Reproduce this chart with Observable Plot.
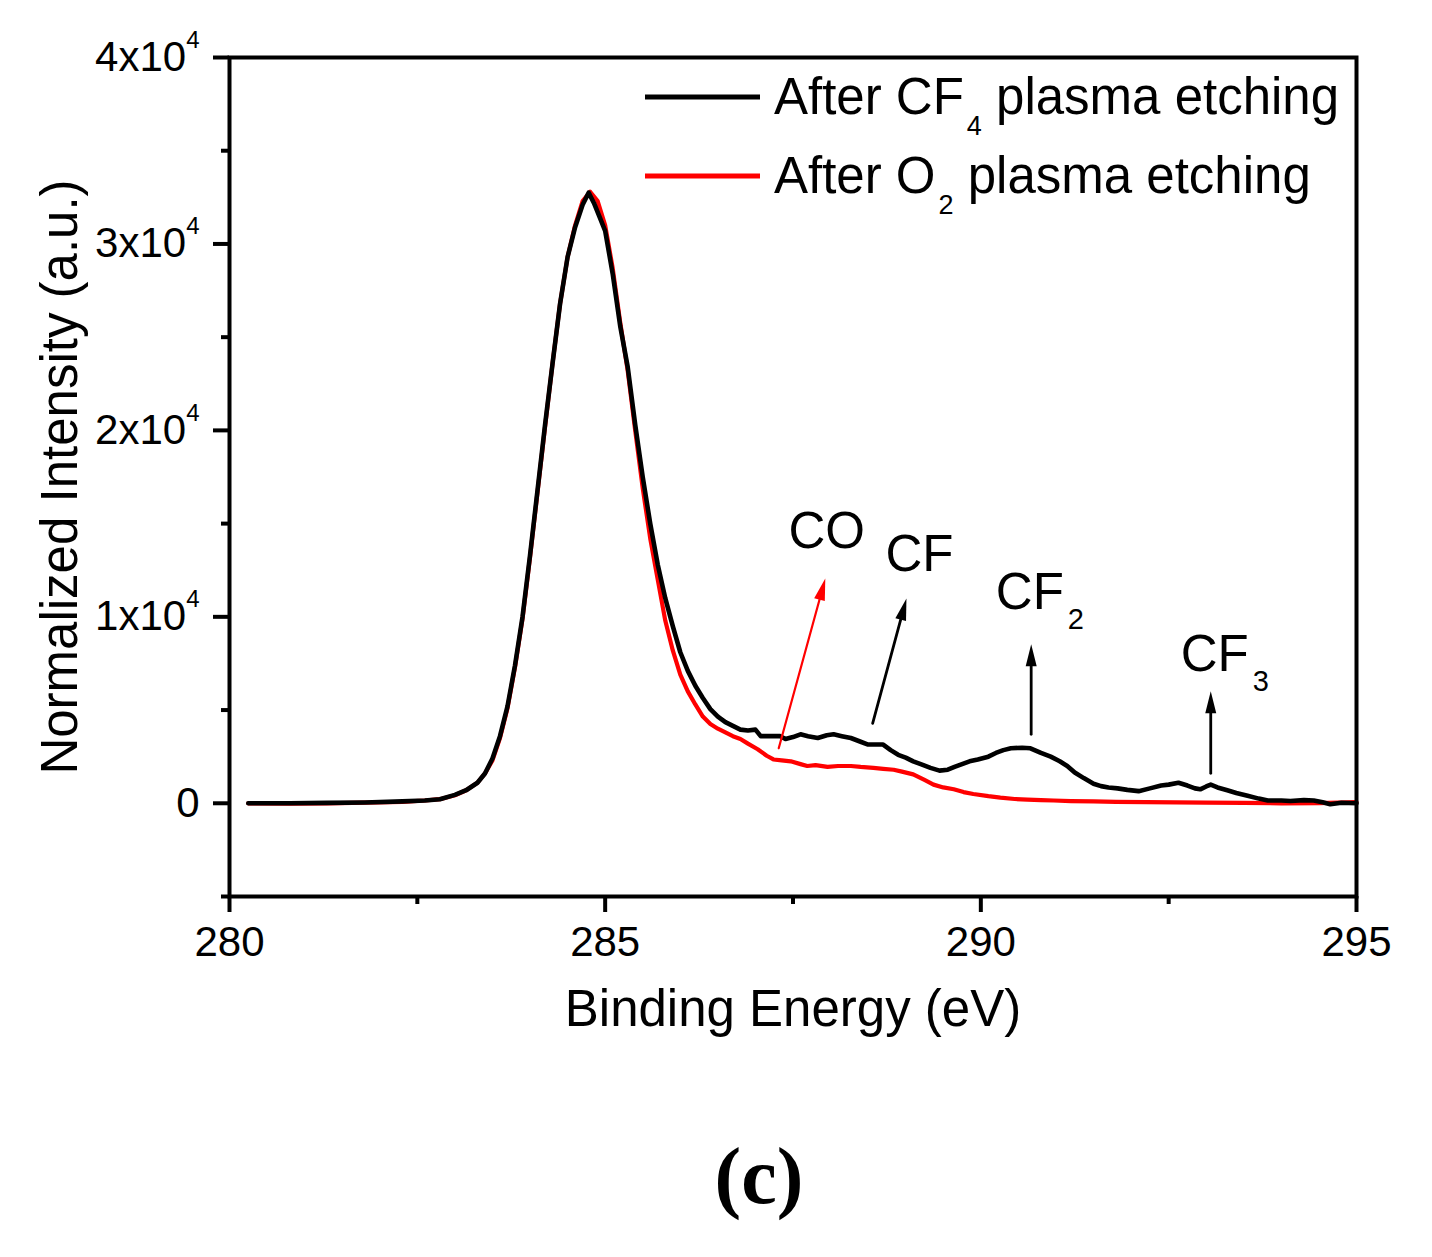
<!DOCTYPE html>
<html>
<head>
<meta charset="utf-8">
<script src="https://cdn.jsdelivr.net/npm/d3@7"></script>
<script src="https://cdn.jsdelivr.net/npm/@observablehq/plot@0.6"></script>
<style>
  body { margin: 0; background: #fff; }
  #wrap { position: relative; width: 1432px; height: 1257px; }
  #caption {
    position: absolute; top: 1136px; left: 759px; transform: translateX(-50%);
    font-family: "Liberation Serif", "Times New Roman", serif; font-weight: bold;
    font-size: 80px; line-height: 80px; color: #000; white-space: nowrap;
  }
</style>
</head>
<body>
<div id="wrap"><div id="chart"></div><div id="caption">(c)</div></div>
<script>
// ---------- data ----------
const energyCF4 = [280.25,280.8,281.3,281.8,282.3,282.6,282.8,283.0,283.15,283.3,283.4,283.5,283.6,283.7,283.8,283.9,284.0,284.1,284.2,284.3,284.4,284.5,284.6,284.7,284.78,284.85,284.92,285.0,285.1,285.2,285.3,285.4,285.5,285.6,285.7,285.8,285.9,286.0,286.1,286.2,286.3,286.4,286.5,286.6,286.7,286.8,286.9,287.0,287.07,287.2,287.33,287.4,287.5,287.6,287.7,287.83,287.95,288.04,288.15,288.27,288.4,288.5,288.7,288.8,288.9,289.0,289.1,289.2,289.33,289.45,289.56,289.65,289.75,289.85,289.96,290.1,290.2,290.3,290.4,290.55,290.66,290.8,290.93,291.05,291.15,291.25,291.37,291.5,291.6,291.7,291.82,291.95,292.1,292.25,292.4,292.5,292.63,292.75,292.85,292.92,293.0,293.06,293.15,293.28,293.4,293.55,293.7,293.82,294.0,294.12,294.3,294.43,294.55,294.65,294.8,295.0];
const intensityCF4 = [0,0,20,40,100,150,220,450,700,1100,1600,2400,3600,5200,7400,10000,13300,16800,20300,23600,26800,29300,30900,32100,32750,32200,31500,30700,28400,25600,23400,20300,17500,15000,12800,11000,9500,8100,7100,6300,5650,5050,4650,4350,4150,3950,3900,3950,3600,3600,3600,3450,3550,3700,3600,3500,3650,3700,3600,3500,3300,3150,3150,2850,2600,2450,2250,2100,1900,1750,1800,1950,2100,2250,2350,2500,2700,2850,2950,2980,2950,2700,2500,2250,2000,1650,1350,1050,920,850,800,720,650,800,950,1000,1100,950,800,750,900,1000,850,700,550,400,250,150,150,120,170,150,50,-50,30,0];

const energyO2 = [280.25,280.8,281.3,281.8,282.3,282.6,282.8,283.0,283.15,283.3,283.4,283.5,283.6,283.7,283.8,283.9,284.0,284.1,284.2,284.3,284.4,284.5,284.6,284.7,284.8,284.9,285.0,285.1,285.2,285.3,285.4,285.5,285.6,285.7,285.8,285.9,286.0,286.1,286.2,286.3,286.4,286.5,286.6,286.7,286.8,286.9,287.03,287.15,287.24,287.35,287.47,287.6,287.69,287.8,287.96,288.1,288.27,288.4,288.57,288.7,288.84,288.95,289.1,289.25,289.37,289.5,289.64,289.77,289.9,290.1,290.26,290.45,290.62,290.8,290.97,291.2,291.5,291.8,292.2,292.6,293.0,293.5,294.0,294.5,295.0];
const intensityO2 = [0,-20,0,30,80,150,220,430,700,1100,1600,2300,3500,5100,7300,9900,13200,16700,20200,23600,26800,29300,31000,32300,32800,32300,31000,28700,25800,23200,20000,16900,14200,12000,9800,8200,6900,6000,5300,4650,4250,4000,3800,3600,3450,3200,2900,2550,2350,2300,2250,2100,2000,2050,1950,2000,2000,1950,1900,1850,1800,1700,1550,1250,1000,850,750,600,500,380,300,230,200,170,150,120,100,80,60,50,30,20,0,10,60];

const seriesNames = ["After CF_4 plasma etching", "After O_2 plasma etching"];
const seriesColors = ["#000000", "#ff0000"];

const xDomain = [280, 295];
const yDomain = [-5000, 40000];
const xMajorTicks = [280, 285, 290, 295];
const xMinorTicks = [282.5, 287.5, 292.5];
const yMajorTicks = [0, 10000, 20000, 30000, 40000];
const yMinorTicks = [-5000, 5000, 15000, 25000, 35000];
const yTickLabels = ["0", "1x10^4", "2x10^4", "3x10^4", "4x10^4"];

const peakLabels = ["CO", "CF", "CF_2", "CF_3"];
const peakLabelX = [287.44, 288.73, 290.20, 292.66];
const peakLabelY = [13670, 12440, 10400, 7080];
const arrowX1 = [287.31, 288.56, 290.67, 293.06];
const arrowY1 = [2950, 4290, 3700, 1610];
const arrowX2 = [287.93, 289.01, 290.67, 293.06];
const arrowY2 = [12060, 10990, 8525, 6005];
const arrowColors = ["#ff0000", "#000000", "#000000", "#000000"];

// ---------- layout ----------
const W = 1432, H = 1100;
const mL = 229, mR = 76, mT = 57, mB = H - 896;
const FONT = "'Liberation Sans', Arial, Helvetica, sans-serif";
const SVGNS = "http://www.w3.org/2000/svg";

const dataCF4 = energyCF4.map((x, i) => ({x, y: intensityCF4[i]}));
const dataO2 = energyO2.map((x, i) => ({x, y: intensityO2[i]}));

const sx = Plot.scale({x: {domain: xDomain, range: [mL, W - mR]}});
const sy = Plot.scale({y: {domain: yDomain, range: [H - mB, mT]}});
const arrows = arrowX1.map((x1, i) => {
  const dx = sx.apply(arrowX2[i]) - sx.apply(x1);
  const dy = sy.apply(arrowY2[i]) - sy.apply(arrowY1[i]);
  return {x1, y1: arrowY1[i], x2: arrowX2[i], y2: arrowY2[i], color: arrowColors[i],
          angle: Math.atan2(dx, -dy) * 180 / Math.PI};
});
const arrowsRed = arrows.filter(d => d.color === "#ff0000");
const arrowsBlack = arrows.filter(d => d.color !== "#ff0000");
const labels = peakLabels.map((t, i) => ({t, x: peakLabelX[i], y: peakLabelY[i]}));

function setRich(el, str, o) {
  while (el.firstChild) el.removeChild(el.firstChild);
  const parts = str.split(/([_^].)/);
  let shift = 0;
  for (const p of parts) {
    if (!p) continue;
    const ts = document.createElementNS(SVGNS, "tspan");
    if (p[0] === "^" || p[0] === "_") {
      const d = p[0] === "^" ? -o.supRise : o.subDrop;
      ts.setAttribute("dy", d - shift); shift = d;
      ts.setAttribute("font-size", p[0] === "^" ? o.supSize : o.subSize);
      if (o.dx) ts.setAttribute("dx", o.dx);
      ts.textContent = p[1];
    } else {
      if (shift) { ts.setAttribute("dy", -shift); shift = 0; }
      ts.textContent = p;
    }
    el.appendChild(ts);
  }
}

function legendMark(index, scales, values, dims) {
  const g = document.createElementNS(SVGNS, "g");
  const x0 = dims.width - dims.marginRight - 711;
  seriesNames.forEach((name, i) => {
    const yLine = dims.marginTop + 40 + i * 79;
    const line = document.createElementNS(SVGNS, "line");
    line.setAttribute("x1", x0); line.setAttribute("x2", x0 + 115);
    line.setAttribute("y1", yLine); line.setAttribute("y2", yLine);
    line.setAttribute("stroke", seriesColors[i]); line.setAttribute("stroke-width", 5);
    g.appendChild(line);
    const t = document.createElementNS(SVGNS, "text");
    t.setAttribute("x", x0 + 129); t.setAttribute("y", yLine + 17);
    t.setAttribute("text-anchor", "start");
    t.setAttribute("font-family", FONT); t.setAttribute("font-size", 51);
    t.setAttribute("fill", "#000");
    setRich(t, name, {subDrop: 21, subSize: 27, dx: 3});
    g.appendChild(t);
  });
  return g;
}

const plot = Plot.plot({
  width: W, height: H,
  marginLeft: mL, marginRight: mR, marginTop: mT, marginBottom: mB,
  x: {domain: xDomain},
  y: {domain: yDomain},
  style: {fontFamily: FONT, color: "#000", background: "#fff"},
  marks: [
    Plot.axisX({ticks: xMajorTicks, tickSize: 16, tickPadding: 14, strokeWidth: 4, fontSize: 42, tickFormat: d => String(d), label: null}),
    Plot.axisX({ticks: xMinorTicks, tickSize: 8, strokeWidth: 4, text: null, label: null}),
    Plot.axisY({ticks: yMajorTicks, tickSize: 16, tickPadding: 14, strokeWidth: 4, fontSize: 42,
                tickFormat: d => yTickLabels[yMajorTicks.indexOf(d)], label: null}),
    Plot.axisY({ticks: yMinorTicks, tickSize: 8, strokeWidth: 4, text: null, label: null}),
    Plot.line(dataO2, {x: "x", y: "y", stroke: seriesColors[1], strokeWidth: 4.2, strokeLinejoin: "round"}),
    Plot.line(dataCF4, {x: "x", y: "y", stroke: seriesColors[0], strokeWidth: 4.6, strokeLinejoin: "round"}),
    Plot.arrow(arrowsRed, {x1: "x1", y1: "y1", x2: "x2", y2: "y2", stroke: "#ff0000", strokeWidth: 2.2, headLength: 0, insetEnd: 14}),
    Plot.arrow(arrowsBlack, {x1: "x1", y1: "y1", x2: "x2", y2: "y2", stroke: "#000", strokeWidth: 2.8, headLength: 0, insetEnd: 14}),
    Plot.vector(arrowsRed, {x: "x2", y: "y2", rotate: "angle", length: 22, r: 5.5, shape: "spike", anchor: "end", fill: "#ff0000", stroke: "none"}),
    Plot.vector(arrowsBlack, {x: "x2", y: "y2", rotate: "angle", length: 22, r: 5.5, shape: "spike", anchor: "end", fill: "#000", stroke: "none"}),
    Plot.text(labels, {x: "x", y: "y", text: "t", textAnchor: "start", lineAnchor: "bottom", fontSize: 51, fill: "#000"}),
    Plot.text(["Binding Energy (eV)"], {frameAnchor: "bottom", dy: 129, textAnchor: "middle", lineAnchor: "bottom", fontSize: 51, fill: "#000"}),
    Plot.text(["Normalized Intensity (a.u.)"], {frameAnchor: "left", rotate: -90, dx: -153, textAnchor: "middle", lineAnchor: "bottom", fontSize: 51, fill: "#000"}),
    legendMark,
    Plot.frame({stroke: "#000", strokeWidth: 4})
  ]
});

plot.querySelectorAll("text").forEach(el => {
  const s = el.textContent;
  if (s.includes("^")) setRich(el, s, {supRise: 23, supSize: 24});
  else if (s.includes("_")) setRich(el, s, {subDrop: 20, subSize: 29, dx: 4});
});

document.getElementById("chart").appendChild(plot);
</script>
</body>
</html>
